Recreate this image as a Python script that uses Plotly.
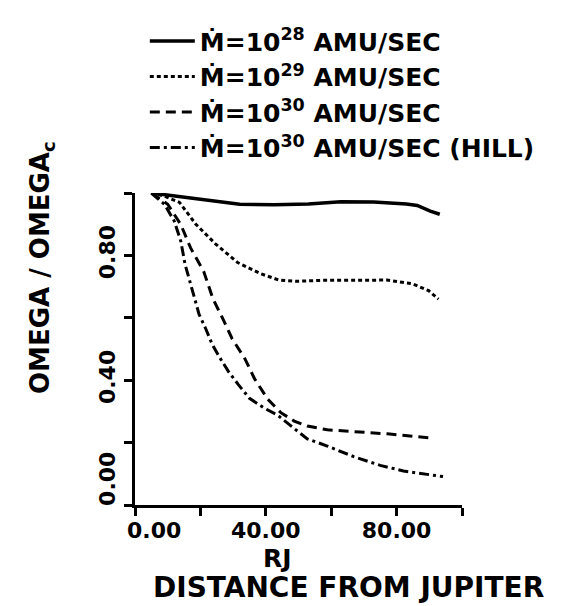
import plotly.graph_objects as go

# ---- data (distance in RJ, OMEGA/OMEGAc) ----
x_1e28 = [5, 11, 17, 25, 32, 42.5, 53, 63, 73, 83, 86.3, 90.3, 93.2]
y_1e28 = [1.0, 0.992, 0.983, 0.972, 0.964, 0.962, 0.965, 0.972, 0.971, 0.965, 0.960, 0.942, 0.932]

x_1e29 = [5, 9, 13.6, 18.6, 24.6, 31.4, 38.5, 44, 49, 57, 67, 77, 84.8, 89.8, 92.8]
y_1e29 = [1.0, 0.99, 0.97, 0.90, 0.837, 0.777, 0.741, 0.721, 0.717, 0.720, 0.720, 0.721, 0.709, 0.687, 0.660]

x_1e30 = [5, 10, 14, 17, 21, 23.8, 26.8, 29.7, 33.6, 36.6, 40.6, 44.6, 48.7, 52.7, 58.8, 67, 77.2, 91.5]
y_1e30 = [1.0, 0.964, 0.899, 0.824, 0.749, 0.662, 0.598, 0.533, 0.469, 0.404, 0.339, 0.296, 0.269, 0.253, 0.241, 0.235, 0.228, 0.214]

x_hill = [5, 9, 12, 14, 15.3, 16.7, 18.2, 19.6, 21.5, 23.6, 26, 28.5, 31.6, 35, 39.6, 43.6, 48.7, 52.7, 58.8, 66.9, 75, 82.1, 94.2]
y_hill = [1.0, 0.964, 0.910, 0.846, 0.772, 0.718, 0.665, 0.611, 0.568, 0.515, 0.471, 0.429, 0.386, 0.342, 0.310, 0.288, 0.245, 0.212, 0.189, 0.155, 0.127, 0.109, 0.091]

series_names = [
    "Ṁ=10<sup>28</sup> AMU/SEC",
    "Ṁ=10<sup>29</sup> AMU/SEC",
    "Ṁ=10<sup>30</sup> AMU/SEC",
    "Ṁ=10<sup>30</sup> AMU/SEC (HILL)",
]

NB = "\u00a0"
x_tickvals = [0, 40, 80]
x_ticktext = [NB * 5 + "0.00", "40.00", "80.00"]
x_minorvals = [20, 60, 100]
y_tickvals = [0, 0.4, 0.8]
y_ticktext = [NB * 6 + "0.00", "0.40", "0.80"]
y_minorvals = [0.2, 0.6, 1.0]

FONT = "DejaVu Sans"

xs = [x_1e28, x_1e29, x_1e30, x_hill]
ys = [y_1e28, y_1e29, y_1e30, y_hill]
dashes = ["solid", "4px,3px", "10px,6px", "10px,4px,3px,4px"]

fig = go.Figure()
for i, (xv, yv, nm, ds) in enumerate(zip(xs, ys, series_names, dashes)):
    fig.add_trace(go.Scatter(
        x=xv, y=yv, mode="lines", name=nm, legendgroup=str(i),
        line=dict(color="black", width=3.5 if i == 0 else 3, dash=ds),
        cliponaxis=False,
    ))

def axis_common():
    return dict(
        showline=True, linewidth=3, linecolor="black",
        ticks="outside", ticklen=8, tickwidth=2.5, tickcolor="black",
        showgrid=False, zeroline=False,
        tickfont=dict(family=FONT, size=22, color="black", weight="bold"),
    )

minor_style = dict(ticks="outside", ticklen=8, tickwidth=2.5, tickcolor="black", showgrid=False)

fig.update_layout(
    width=578, height=606, autosize=False,
    margin=dict(l=135, r=116, t=193, b=101),
    paper_bgcolor="white", plot_bgcolor="white",
    font=dict(family=FONT, color="black", weight="bold"),
    xaxis=dict(range=[0, 100], tickmode="array", tickvals=x_tickvals, ticktext=x_ticktext,
               minor=dict(tickmode="array", tickvals=x_minorvals, **minor_style),
               ticklabelstandoff=-4, **axis_common()),
    yaxis=dict(range=[0, 1.0], tickmode="array", tickvals=y_tickvals, ticktext=y_ticktext,
               minor=dict(tickmode="array", tickvals=y_minorvals, **minor_style),
               tickangle=-90, **axis_common()),
    showlegend=True,
    legend=dict(
        x=0.03, y=1.56, xanchor="left", yanchor="top",
        font=dict(family=FONT, size=25, color="black", weight="bold"),
        bgcolor="rgba(0,0,0,0)", tracegroupgap=0, itemwidth=45,
    ),
    annotations=[
        dict(text="RJ", xref="paper", yref="paper", x=0.437, y=-0.17,
             xanchor="center", yanchor="middle",
             showarrow=False, font=dict(family=FONT, size=25, weight="bold")),
        dict(text="DISTANCE FROM JUPITER", xref="paper", yref="paper", x=0.654, y=-0.263,
             xanchor="center", yanchor="middle",
             showarrow=False, font=dict(family=FONT, size=28, weight="bold")),
        dict(text="OMEGA / OMEGA<sub>c</sub>", xref="paper", yref="paper", x=-0.284, y=0.76,
             xanchor="center", yanchor="middle",
             textangle=-90, showarrow=False, font=dict(family=FONT, size=26, weight="bold")),
    ],
)

fig.write_html("out.html")
